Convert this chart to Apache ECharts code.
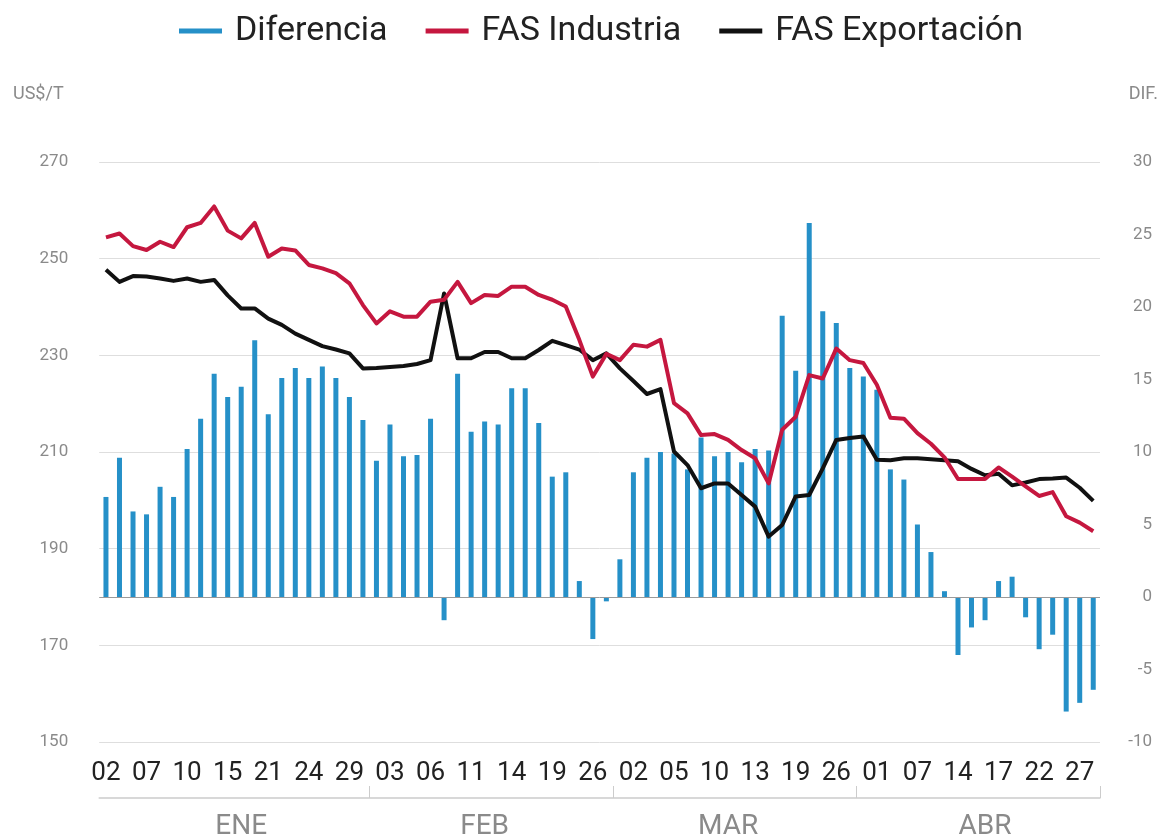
<!DOCTYPE html>
<html>
<head>
<meta charset="utf-8">
<script src="https://cdn.jsdelivr.net/npm/echarts@6/dist/echarts.min.js"></script>
<style>
  html, body { margin: 0; padding: 0; background: #ffffff; }
  #chart { width: 1167px; height: 839px; }
</style>
</head>
<body>
<div id="chart"></div>
<script>
// ---- Data (2020, trading days) ----
const dates = [
  '2020-01-02','2020-01-03','2020-01-06','2020-01-07','2020-01-08','2020-01-09','2020-01-10','2020-01-13','2020-01-14','2020-01-15',
  '2020-01-16','2020-01-17','2020-01-21','2020-01-22','2020-01-23','2020-01-24','2020-01-27','2020-01-28','2020-01-29','2020-01-30',
  '2020-01-31','2020-02-03','2020-02-04','2020-02-05','2020-02-06','2020-02-07','2020-02-10','2020-02-11','2020-02-12','2020-02-13',
  '2020-02-14','2020-02-17','2020-02-18','2020-02-19','2020-02-20','2020-02-21','2020-02-26','2020-02-27','2020-02-28','2020-03-02',
  '2020-03-03','2020-03-04','2020-03-05','2020-03-06','2020-03-09','2020-03-10','2020-03-11','2020-03-12','2020-03-13','2020-03-17',
  '2020-03-18','2020-03-19','2020-03-20','2020-03-25','2020-03-26','2020-03-27','2020-03-31','2020-04-01','2020-04-03','2020-04-06',
  '2020-04-07','2020-04-08','2020-04-13','2020-04-14','2020-04-15','2020-04-16','2020-04-17','2020-04-20','2020-04-21','2020-04-22',
  '2020-04-23','2020-04-24','2020-04-27','2020-04-28'
];

const diferencia = [
  6.9, 9.6, 5.9, 5.7, 7.6, 6.9, 10.2, 12.3, 15.4, 13.8,
  14.5, 17.7, 12.6, 15.1, 15.8, 15.1, 15.9, 15.1, 13.8, 12.2,
  9.4, 11.9, 9.7, 9.8, 12.3, -1.6, 15.4, 11.4, 12.1, 11.9,
  14.4, 14.4, 12.0, 8.3, 8.6, 1.1, -2.9, -0.3, 2.6, 8.6,
  9.6, 10.0, 9.9, 8.8, 11.0, 9.7, 10.0, 9.3, 10.2, 10.1,
  19.4, 15.6, 25.8, 19.7, 18.9, 15.8, 15.2, 14.3, 8.8, 8.1,
  5.0, 3.1, 0.4, -4.0, -2.1, -1.6, 1.1, 1.4, -1.4, -3.6,
  -2.6, -7.9, -7.3, -6.4
];

const fasIndustria = [
  254.4, 255.2, 252.6, 251.8, 253.5, 252.4, 256.5, 257.4, 260.8, 255.8,
  254.2, 257.4, 250.4, 252.1, 251.7, 248.7, 248.0, 247.0, 244.9, 240.4,
  236.6, 239.1, 238.0, 238.0, 241.1, 241.5, 245.2, 240.8, 242.5, 242.3,
  244.2, 244.2, 242.5, 241.5, 240.1, 233.2, 225.6, 230.3, 229.0, 232.2,
  231.8, 233.2, 220.1, 218.0, 213.5, 213.7, 212.5, 210.4, 208.7, 203.5,
  214.6, 217.3, 225.9, 225.2, 231.4, 229.0, 228.4, 223.9, 217.1, 216.9,
  213.9, 211.7, 208.9, 204.4, 204.4, 204.4, 206.8, 204.9, 202.9, 200.9,
  201.7, 196.7, 195.4, 193.6
];

const fasExportacion = [
  247.7, 245.2, 246.4, 246.3, 245.9, 245.4, 245.9, 245.2, 245.6, 242.4,
  239.7, 239.7, 237.6, 236.3, 234.5, 233.2, 231.9, 231.2, 230.4, 227.3,
  227.4, 227.6, 227.8, 228.2, 229.0, 242.8, 229.4, 229.4, 230.7, 230.7,
  229.4, 229.4, 231.1, 233.0, 232.1, 231.2, 229.0, 230.4, 227.3, 224.7,
  222.0, 223.0, 210.1, 207.3, 202.5, 203.5, 203.5, 201.1, 198.7, 192.5,
  194.9, 200.8, 201.1, 206.6, 212.5, 212.9, 213.2, 208.4, 208.3, 208.7,
  208.7, 208.5, 208.3, 208.1, 206.5, 205.2, 205.5, 203.1, 203.7, 204.4,
  204.5, 204.7, 202.6, 199.9
];

const leftTicks = { min: 150, max: 270, step: 20 };
const rightTicks = { min: -10, max: 30, step: 5 };
const monthNames = ['ENE', 'FEB', 'MAR', 'ABR'];
const monthLabelIdx = [10, 28, 46, 65];
const monthDividerIdx = [20, 38, 56];
const seriesNames = ['Diferencia', 'FAS Industria', 'FAS Exportación'];

// ---- Chart ----
const FONT = 'Roboto, "Noto Sans", sans-serif';
const BLUE = '#2590c8';
const RED = '#c5173f';
const BLACK = '#111111';

const chart = echarts.init(document.getElementById('chart'), null, { renderer: 'canvas' });

const option = {
  backgroundColor: '#ffffff',
  animation: false,
  textStyle: { fontFamily: FONT },
  title: [
    { text: 'US$/T', left: 8, top: 80, textStyle: { fontFamily: FONT, fontSize: 18, fontWeight: 'normal', color: '#8a8a8a' } },
    { text: 'DIF.', right: 4, top: 80, textStyle: { fontFamily: FONT, fontSize: 18, fontWeight: 'normal', color: '#8a8a8a' } }
  ],
  legend: {
    data: seriesNames.map(n => ({ name: n, icon: 'rect' })),
    left: 174,
    top: 9,
    itemWidth: 43,
    itemHeight: 5,
    itemGap: 38,
    textStyle: { fontFamily: FONT, fontSize: 34, color: '#222222', padding: [0, 0, 0, 8] }
  },
  grid: { left: 99.2, right: 67, top: 162, bottom: 97, containLabel: false, outerBoundsMode: 'none' },
  xAxis: [
    {
      type: 'category',
      data: dates,
      boundaryGap: true,
      axisLine: { show: false },
      axisTick: { show: false },
      splitLine: { show: false },
      axisLabel: {
        interval: (i) => i % 3 === 0,
        formatter: (v) => v.slice(8, 10),
        fontFamily: FONT,
        fontSize: 26,
        color: '#222222',
        margin: 18
      }
    },
    {
      type: 'category',
      data: dates,
      boundaryGap: true,
      position: 'bottom',
      offset: 56,
      axisLine: { show: true, lineStyle: { color: '#cccccc', width: 1.5 } },
      axisTick: {
        show: true,
        inside: true,
        length: 12,
        interval: (i) => monthDividerIdx.indexOf(i) >= 0,
        lineStyle: { color: '#cccccc', width: 1 }
      },
      splitLine: { show: false },
      axisLabel: {
        interval: (i) => monthLabelIdx.indexOf(i) >= 0,
        formatter: (v, i) => monthNames[monthLabelIdx.indexOf(i)] || '',
        fontFamily: FONT,
        fontSize: 28,
        color: '#8a8a8a',
        margin: 15
      }
    }
  ],
  yAxis: [
    {
      type: 'value',
      position: 'left',
      min: leftTicks.min,
      max: leftTicks.max,
      interval: leftTicks.step,
      axisLine: { show: false },
      axisTick: { show: false },
      splitLine: { show: true, lineStyle: { color: '#dedede', width: 1 } },
      axisLabel: {
        fontFamily: FONT,
        fontSize: 17,
        color: '#8a8a8a',
        margin: 31,
        padding: [0, 0, 10, 0]
      }
    },
    {
      type: 'value',
      position: 'right',
      min: rightTicks.min,
      max: rightTicks.max,
      interval: rightTicks.step,
      axisLine: { show: false },
      axisTick: { show: false },
      splitLine: { show: false },
      axisLabel: {
        fontFamily: FONT,
        fontSize: 17,
        color: '#8a8a8a',
        margin: 52,
        align: 'right',
        padding: [0, 0, 10, 0]
      }
    }
  ],
  series: [
    {
      name: seriesNames[0],
      type: 'bar',
      xAxisIndex: 0,
      yAxisIndex: 1,
      data: diferencia,
      barWidth: 5,
      itemStyle: { color: BLUE },
      z: 2,
      markLine: {
        silent: true,
        symbol: 'none',
        label: { show: false },
        lineStyle: { color: '#9a9a9a', width: 1, type: 'solid' },
        data: [{ yAxis: 0 }]
      }
    },
    {
      name: seriesNames[1],
      type: 'line',
      xAxisIndex: 0,
      yAxisIndex: 0,
      data: fasIndustria,
      showSymbol: false,
      symbol: 'none',
      lineStyle: { color: RED, width: 4, join: 'round' },
      itemStyle: { color: RED },
      z: 4
    },
    {
      name: seriesNames[2],
      type: 'line',
      xAxisIndex: 0,
      yAxisIndex: 0,
      data: fasExportacion,
      showSymbol: false,
      symbol: 'none',
      lineStyle: { color: BLACK, width: 4, join: 'round' },
      itemStyle: { color: BLACK },
      z: 3
    }
  ]
};

chart.setOption(option);
</script>
</body>
</html>
